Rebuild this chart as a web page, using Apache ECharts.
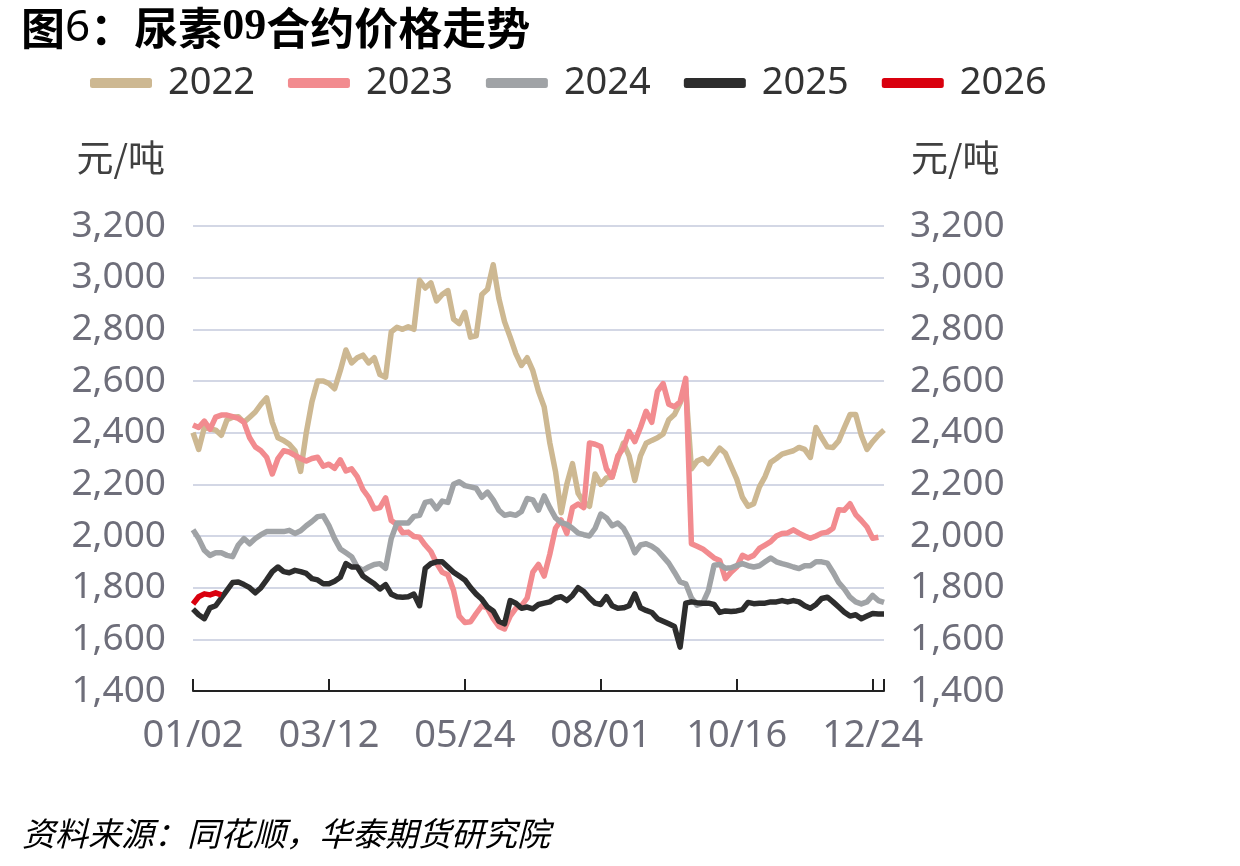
<!DOCTYPE html>
<html><head><meta charset="utf-8">
<script src="https://cdn.jsdelivr.net/npm/echarts@6/dist/echarts.min.js"></script>
<style>html,body{margin:0;padding:0;background:#fff}#c{width:1240px;height:866px}</style>
</head><body><div id="c"></div>
<script>
// x positions: index of every 2nd trading day; ticks every 24 indices
const tickLabels = ['01/02', '03/12', '05/24', '08/01', '10/16', '12/24'];
const years = ['2022', '2023', '2024', '2025', '2026'];
const colors = ['#cdb892', '#f28b8f', '#a0a3a6', '#2d2d2d', '#d9000e'];

const v2022 = [2400,2335,2420,2415,2410,2390,2450,2460,2462,2440,2460,2480,2510,2535,2440,2380,2370,2355,2330,2250,
  2400,2520,2600,2600,2590,2570,2640,2720,2670,2690,2700,2670,2690,2625,2615,2790,2808,2800,2810,2800,
  2990,2960,2980,2910,2935,2950,2840,2822,2866,2770,2775,2935,2955,3050,2920,2830,2770,2706,2660,2690,
  2640,2560,2500,2360,2250,2090,2200,2280,2165,2130,2115,2240,2200,2225,2228,2300,2360,2310,2215,2310,
  2359,2370,2380,2395,2450,2470,2515,2570,2260,2290,2300,2280,2310,2340,2320,2270,2220,2150,2115,2125,
  2190,2230,2285,2300,2317,2324,2330,2343,2335,2304,2420,2380,2345,2343,2368,2420,2470,2470,2390,2335,
  2365,2390,2410];
const v2023 = [2430,2420,2445,2413,2460,2468,2468,2462,2455,2440,2380,2345,2330,2305,2240,2300,2330,2325,2312,2300,
  2290,2300,2305,2270,2278,2262,2295,2252,2260,2230,2180,2150,2105,2110,2148,2060,2045,2013,2015,1998,
  1995,1965,1940,1895,1860,1850,1790,1690,1665,1668,1700,1730,1720,1680,1650,1640,1690,1720,1730,1760,
  1860,1890,1845,1930,2030,2062,2010,2110,2124,2110,2360,2355,2346,2260,2228,2310,2340,2404,2365,2420,
  2483,2440,2560,2590,2510,2500,2520,2610,1970,1960,1950,1933,1915,1905,1835,1860,1880,1925,1915,1925,
  1952,1965,1978,2000,2010,2012,2024,2011,2000,1991,2000,2011,2015,2030,2102,2100,2125,2083,2060,2035,
  1991,1995];
const v2024 = [2024,1990,1945,1925,1935,1935,1925,1920,1965,1990,1970,1990,2005,2017,2017,2017,2017,2022,2010,2020,
  2040,2056,2075,2078,2040,1990,1950,1935,1920,1880,1868,1880,1890,1893,1875,1990,2050,2050,2050,2076,
  2080,2130,2135,2105,2135,2130,2200,2210,2195,2190,2185,2150,2170,2140,2100,2080,2085,2080,2095,2145,
  2140,2100,2155,2110,2070,2052,2045,2030,2011,2005,2000,2030,2085,2070,2040,2050,2030,1990,1935,1965,
  1970,1960,1945,1920,1895,1860,1822,1815,1760,1732,1740,1789,1887,1890,1875,1877,1885,1893,1885,1880,
  1885,1900,1915,1900,1893,1887,1880,1874,1885,1885,1900,1900,1895,1860,1820,1795,1763,1745,1737,1745,
  1770,1750,1743];
const v2025 = [1717,1695,1680,1722,1730,1760,1790,1820,1822,1812,1800,1780,1800,1830,1862,1880,1862,1858,1867,1862,
  1855,1835,1830,1815,1815,1825,1840,1893,1880,1880,1845,1830,1815,1795,1812,1775,1765,1763,1765,1775,
  1730,1875,1893,1900,1900,1880,1860,1845,1830,1800,1775,1755,1725,1710,1670,1660,1750,1740,1720,1725,
  1718,1735,1740,1745,1760,1765,1750,1770,1800,1785,1760,1740,1735,1765,1730,1720,1722,1730,1776,1722,
  1712,1704,1680,1670,1660,1650,1570,1740,1745,1742,1740,1740,1735,1704,1710,1708,1710,1715,1743,1738,
  1740,1740,1745,1745,1750,1745,1750,1745,1730,1720,1735,1758,1763,1745,1725,1705,1690,1695,1680,1690,
  1700,1698,1698];
const v2026 = [1737,1765,1776,1772,1780,1772];
const seriesValues = [v2022, v2023, v2024, v2025, v2026];

const FONT = "'Noto Sans','Noto Sans CJK SC',sans-serif";
const CJK = "'Noto Sans CJK SC',sans-serif";
const fmt = v => Number(v).toLocaleString('en-US');

const chart = echarts.init(document.getElementById('c'), null, {renderer: 'canvas'});
chart.setOption({
  animation: false,
  backgroundColor: '#ffffff',
  title: {
    text: '{b|图}{n|6}{b|：尿素}{s|09}{b|合约价格走势}',
    left: 16, top: 1,
    textStyle: {
      rich: {
        b: {fontSize: 44, fontWeight: 'bold', fontFamily: CJK, color: '#000'},
        n: {fontSize: 44, fontWeight: 'normal', fontFamily: "'Noto Sans',sans-serif", color: '#000'},
        s: {fontSize: 44, fontWeight: 'bold', fontFamily: "'Liberation Serif',serif", color: '#000'}
      }
    }
  },
  legend: {
    data: years, left: 85, top: 59,
    icon: 'roundRect', itemWidth: 62, itemHeight: 10, itemGap: 33,
    textStyle: {fontSize: 38, color: '#333', fontFamily: FONT, padding: [0, 0, 0, 11]}
  },
  grid: {left: 193, right: 356, top: 226, bottom: 175},
  xAxis: {
    type: 'value', min: 0, max: 122, interval: 24,
    axisLine: {show: true, lineStyle: {color: '#222', width: 2}},
    axisTick: {show: true, inside: true, length: 12, lineStyle: {color: '#222', width: 2}},
    splitLine: {show: false},
    axisLabel: {
      margin: 26, fontSize: 38, color: '#6e6e7a', fontFamily: FONT,
      formatter: v => (v % 24 === 0 ? tickLabels[v / 24] : '')
    }
  },
  yAxis: [
    {
      type: 'value', min: 1400, max: 3200, interval: 200, position: 'left',
      axisLine: {show: false}, axisTick: {show: false},
      splitLine: {show: true, lineStyle: {color: '#d3d7e5', width: 2}},
      axisLabel: {margin: 27, fontSize: 37, color: '#6e6e7a', fontFamily: FONT, formatter: fmt}
    },
    {
      type: 'value', min: 1400, max: 3200, interval: 200, position: 'right',
      axisLine: {show: false}, axisTick: {show: false}, splitLine: {show: false},
      axisLabel: {margin: 26, fontSize: 37, color: '#6e6e7a', fontFamily: FONT, formatter: fmt}
    }
  ],
  graphic: [
    {type: 'text', x: 165, y: 158, style: {text: '元/吨', fontSize: 37, fontFamily: CJK, fill: '#404040', align: 'right', verticalAlign: 'middle'}},
    {type: 'text', x: 911, y: 158, style: {text: '元/吨', fontSize: 37, fontFamily: CJK, fill: '#404040', align: 'left', verticalAlign: 'middle'}},
    {type: 'text', x: 22, y: 833, style: {text: '资料来源：同花顺，华泰期货研究院', fontSize: 33, fontStyle: 'italic', fontFamily: CJK, fill: '#000', align: 'left', verticalAlign: 'middle'}}
  ],
  series: years.map((y, k) => ({
    name: y, type: 'line', yAxisIndex: 0,
    data: seriesValues[k].map((v, i) => [i, v]),
    showSymbol: false, symbol: 'none',
    lineStyle: {width: 5.5, color: colors[k], join: 'round'},
    itemStyle: {color: colors[k]},
    emphasis: {disabled: true}
  }))
});
</script></body></html>
